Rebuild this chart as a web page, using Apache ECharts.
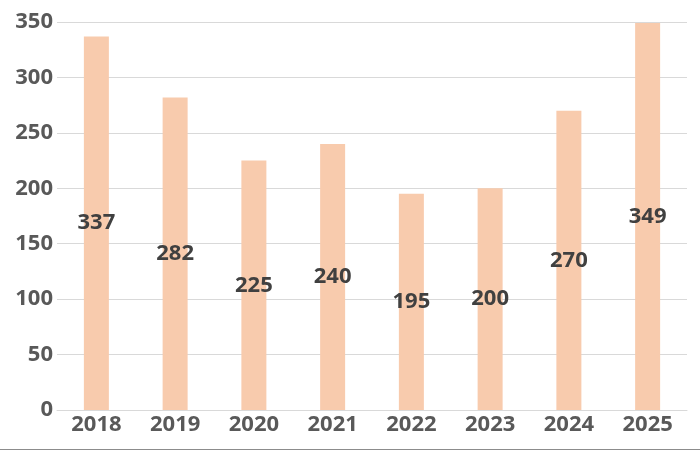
<!DOCTYPE html>
<html>
<head>
<meta charset="utf-8">
<script src="https://cdn.jsdelivr.net/npm/echarts@6/dist/echarts.min.js"></script>
<style>
  html, body { margin: 0; padding: 0; background: #fff; }
  #chart { width: 700px; height: 450px; box-sizing: border-box; border-bottom: 1px solid #8c8c8c; }
</style>
</head>
<body>
<div id="chart"></div>
<script>
// data
var years = ["2018", "2019", "2020", "2021", "2022", "2023", "2024", "2025"];
var values = [337, 282, 225, 240, 195, 200, 270, 349];
var yTicks = { min: 0, max: 350, interval: 50 };

var myChart = echarts.init(document.getElementById("chart"));
var option = {
  animation: false,
  grid: { left: 57, right: 13, top: 22, bottom: 39 },
  xAxis: {
    type: "category",
    data: years,
    axisLine: { lineStyle: { color: "#d9d9d9", width: 1 } },
    axisTick: { show: false },
    axisLabel: {
      color: "#595959",
      fontFamily: "Open Sans",
      fontWeight: "bold",
      fontSize: 22,
      margin: 4
    }
  },
  yAxis: {
    type: "value",
    min: yTicks.min,
    max: yTicks.max,
    interval: yTicks.interval,
    axisLine: { show: false },
    axisTick: { show: false },
    splitLine: { lineStyle: { color: "#d9d9d9", width: 1 } },
    axisLabel: {
      color: "#595959",
      fontFamily: "Open Sans",
      fontWeight: "bold",
      fontSize: 22,
      margin: 4
    }
  },
  series: [
    {
      type: "bar",
      data: values,
      barWidth: 25,
      itemStyle: { color: "#f8cbad" },
      label: {
        show: true,
        position: "inside",
        color: "#404040",
        fontFamily: "Open Sans",
        fontWeight: "bold",
        fontSize: 22
      }
    }
  ]
};
myChart.setOption(option);
</script>
</body>
</html>
